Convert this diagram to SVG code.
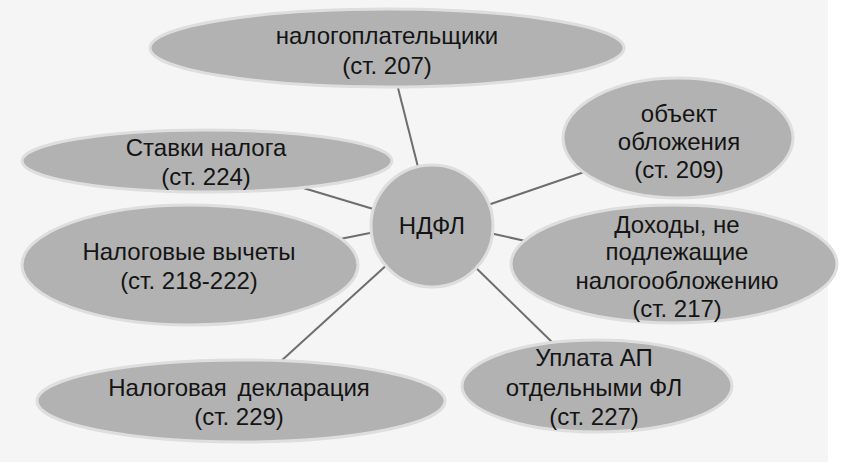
<svg xmlns="http://www.w3.org/2000/svg" width="842" height="472" viewBox="0 0 842 472">
<style>
.n{fill:#b2b2b2;stroke:#dedede;stroke-width:3}
.t{font-family:"Liberation Sans",Arial,sans-serif;font-size:24px;fill:#141414;text-anchor:middle}
.c line{stroke:#6e6e6e;stroke-width:2}
</style>
<rect x="0" y="0" width="842" height="472" fill="#ffffff"/>
<rect x="0" y="0" width="828" height="462" fill="#f5f5f5"/>
<g id="connectors" class="c">
<line x1="420" y1="175" x2="396" y2="80"/>
<line x1="380" y1="211" x2="300" y2="187"/>
<line x1="380" y1="231" x2="330" y2="241"/>
<line x1="390" y1="262" x2="280" y2="362"/>
<line x1="485" y1="206" x2="590" y2="170"/>
<line x1="485" y1="232" x2="530" y2="242"/>
<line x1="470" y1="262" x2="555" y2="345"/>
</g>
<g id="n-taxpayers">
<ellipse class="n" cx="387" cy="48" rx="237" ry="39"/>
<text class="t" x="387" y="44">налогоплательщики</text>
<text class="t" x="387" y="74">(ст. 207)</text>
</g>
<g id="n-rates">
<ellipse class="n" cx="207" cy="161" rx="185" ry="31"/>
<text class="t" x="206" y="156">Ставки налога</text>
<text class="t" x="206" y="185">(ст. 224)</text>
</g>
<g id="n-deductions">
<ellipse class="n" cx="190" cy="265" rx="168" ry="60"/>
<text class="t" x="189" y="260">Налоговые вычеты</text>
<text class="t" x="189" y="289">(ст. 218-222)</text>
</g>
<g id="n-declaration">
<ellipse class="n" cx="241" cy="401" rx="204" ry="41"/>
<text class="t" x="239" y="396" word-spacing="4">Налоговая декларация</text>
<text class="t" x="239" y="425">(ст. 229)</text>
</g>
<g id="n-payment">
<ellipse class="n" cx="597" cy="386" rx="135" ry="46"/>
<text class="t" x="594" y="366">Уплата АП</text>
<text class="t" x="594" y="396">отдельными ФЛ</text>
<text class="t" x="594" y="425">(ст. 227)</text>
</g>
<g id="n-income">
<ellipse class="n" cx="674" cy="264" rx="163" ry="59"/>
<text class="t" x="677" y="233">Доходы, не</text>
<text class="t" x="677" y="260">подлежащие</text>
<text class="t" x="677" y="289">налогообложению</text>
<text class="t" x="677" y="317">(ст. 217)</text>
</g>
<g id="n-object">
<ellipse class="n" cx="678" cy="138" rx="115" ry="60"/>
<text class="t" x="679" y="122">объект</text>
<text class="t" x="679" y="150">обложения</text>
<text class="t" x="679" y="178">(ст. 209)</text>
</g>
<g id="n-ndfl">
<circle class="n" cx="432" cy="226" r="61"/>
<text class="t" x="432" y="234">НДФЛ</text>
</g>
</svg>
